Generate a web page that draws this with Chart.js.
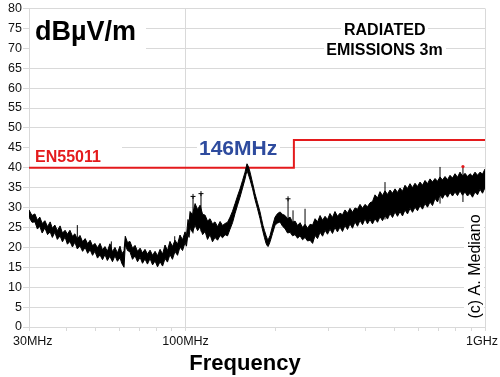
<!DOCTYPE html>
<html>
<head>
<meta charset="utf-8">
<script src="https://cdn.jsdelivr.net/npm/chart.js@4/dist/chart.umd.min.js"></script>
<style>
html,body{margin:0;padding:0;background:#fff;}
#wrap{width:500px;height:377px;}
</style>
</head>
<body>
<div id="wrap"><canvas id="c" width="500" height="377"></canvas></div>
<script>
// ---- data (MHz, dBµV/m) ----
const freqs = [
  30.0,30.7,31.4,32.0,32.6,33.2,33.9,34.6,35.3,35.9,36.6,37.3,
  38.1,38.8,39.6,40.3,41.1,41.9,42.7,43.5,44.4,45.3,46.2,47.1,
  48.0,48.9,49.8,50.8,51.8,52.8,53.8,54.8,55.9,57.0,58.1,59.2,
  60.4,61.3,62.3,62.9,64.0,65.2,66.5,67.8,69.1,70.5,71.8,73.2,
  74.6,76.1,77.6,79.1,80.6,82.2,83.8,85.4,87.0,88.7,90.4,92.2,
  94.0,95.8,97.7,99.6,100.7,101.9,102.7,103.5,105.5,107.6,109.7,111.8,
  114.0,116.2,118.4,120.7,123.0,125.4,127.9,130.4,132.9,135.5,138.1,140.8,
  143.5,146.3,149.1,152.0,155.0,158.0,159.2,160.4,162.3,164.2,167.4,170.6,
  173.9,177.3,179.3,181.4,183.5,185.7,187.1,188.6,190.0,191.5,195.2,199.0,
  202.9,206.8,210.8,214.9,219.1,223.3,227.7,232.1,236.6,241.2,245.9,250.6,
  255.5,260.5,265.6,270.7,275.9,281.3,286.8,292.3,297.9,303.6,309.5,315.5,
  321.6,327.9,334.3,340.8,347.4,354.1,361.0,368.0,375.2,382.5,389.9,397.4,
  405.1,413.0,421.0,429.2,437.6,446.1,454.7,463.5,472.5,481.7,491.1,500.6,
  510.3,520.2,530.3,540.6,551.1,561.8,572.7,583.8,595.1,606.7,618.5,630.5,
  642.7,655.2,667.9,680.9,694.1,707.6,721.3,735.3,749.6,764.1,779.0,794.1,
  809.5,825.2,841.2,857.6,874.2,891.2,908.5,926.1,944.1,962.4,981.1,1000];
const upperLevels = [
  29.4,28.0,28.4,26.8,27.6,26.0,26.7,25.2,26.4,24.8,25.6,24.2,
  25.4,23.6,24.3,23.3,24.3,22.8,23.4,22.1,23.0,21.4,22.2,20.9,
  21.8,20.4,21.0,19.9,21.0,19.4,20.2,19.0,20.9,18.9,20.0,18.6,
  20.3,18.4,19.2,22.8,21.2,21.5,19.8,20.5,19.0,19.8,18.6,19.5,
  18.3,19.3,18.0,19.0,17.9,19.5,18.3,20.6,19.2,21.5,20.2,21.8,
  20.8,23.1,21.9,23.9,23.0,27.0,26.0,29.0,28.2,31.0,29.5,30.6,
  28.3,28.1,26.6,27.2,25.9,26.4,25.2,26.5,25.5,26.0,26.3,27.6,
  29.1,31.0,32.9,34.7,36.8,38.9,40.0,41.0,40.2,38.9,36.2,33.5,
  31.2,28.9,27.2,25.5,24.2,23.0,22.3,21.8,22.4,23.0,25.4,27.6,
  28.5,28.9,28.3,28.0,27.2,27.6,26.3,26.6,25.5,26.2,25.0,25.8,
  24.8,25.8,25.6,27.2,26.4,28.0,26.8,27.8,27.0,28.5,27.5,29.0,
  27.8,28.6,28.2,29.4,28.6,29.8,28.8,29.9,29.6,30.8,29.8,30.8,
  30.2,31.2,31.5,33.2,32.4,34.0,33.0,34.2,33.3,34.4,33.6,34.7,
  33.8,34.9,34.1,35.6,34.8,36.0,35.0,36.1,35.3,36.4,35.6,36.8,
  36.0,37.2,36.4,37.3,36.6,37.7,36.9,37.8,37.0,38.1,37.4,38.5,
  37.6,38.9,37.9,38.6,37.8,38.5,37.9,38.9,38.1,38.9,38.4,39.7];
const lowerLevels = [
  27.6,26.3,26.4,24.6,25.3,23.6,24.9,23.2,23.9,22.5,23.8,22.0,
  22.9,21.4,22.6,20.8,21.5,20.1,21.3,19.6,20.4,19.0,20.0,18.5,
  19.4,18.0,19.0,17.3,18.1,16.9,18.2,16.7,17.8,16.4,17.9,16.5,
  17.4,15.9,15.0,20.6,19.2,18.9,17.0,17.9,16.4,17.5,16.0,17.1,
  15.8,17.2,15.6,16.6,15.1,16.4,15.3,17.2,16.3,18.2,17.0,19.0,
  18.0,20.1,19.2,21.2,20.3,23.5,22.5,24.8,23.8,25.6,24.2,25.2,
  23.2,24.0,22.0,23.2,21.4,22.5,21.8,23.0,22.4,23.2,22.9,24.6,
  26.2,28.5,30.6,32.6,34.9,37.2,38.3,39.3,38.2,37.0,34.7,32.0,
  29.7,27.2,25.5,23.9,22.4,21.0,20.5,20.2,20.7,21.4,23.5,25.6,
  26.1,26.4,25.3,24.7,23.6,23.8,22.9,23.2,22.3,22.9,21.9,22.5,
  21.6,21.8,21.0,23.0,22.2,23.8,22.8,24.3,23.3,24.6,23.5,25.0,
  23.9,25.1,24.0,25.5,24.5,25.9,24.8,26.4,25.3,26.8,25.7,27.2,
  25.9,27.0,25.9,27.2,26.3,27.7,26.7,28.0,27.1,28.5,27.5,28.9,
  27.8,29.0,27.9,29.4,28.4,29.8,28.8,30.1,29.2,30.5,29.6,31.0,
  30.1,31.4,30.5,32.3,31.4,33.2,32.3,33.5,32.6,33.8,32.9,33.9,
  33.0,34.2,33.1,33.9,32.9,33.6,32.6,33.9,33.2,34.6,33.6,35.0];
// narrow spikes (freq MHz, low dB, high dB)
const spikeFreqs = [43.5,56.5,92.0,105.9,112.6,219.9,228.5,250.6,463.5,707.6,844];
const spikeLows  = [20.0,17.0,18.5,23.5,24.0,24.5,23.5,22.5,27.0,31.0,31.4];
const spikeHighs = [25.6,21.5,22.8,32.8,33.5,32.2,29.3,29.7,36.4,40.2,40.3];
// peak markers
const markerFreqs = [105.9,112.6,219.9];
const markerLevels = [32.8,33.5,32.2];
const redDotFreqs = [844];
const redDotLevels = [40.3];
// EN55011 limit
const limitFreqs = [30,230,230,1000];
const limitLevels = [40,40,47,47];
// axes
const yMin = 0, yMax = 80, yStep = 5;
const xMin = 30, xMax = 1000;
const xTickValues = [30,40,50,60,70,80,90,100,200,300,400,500,600,700,800,900,1000];
const xLabelValues = [30,100,1000];
const xLabelTexts = ['30MHz','100MHz','1GHz'];
const xGridValues = [100,1000];

const pts = (xs, ys) => xs.map((x,i)=>({x:x, y:ys[i]}));
const spikeData = [];
spikeFreqs.forEach((f,i)=>{ spikeData.push({x:f,y:spikeLows[i]},{x:f,y:spikeHighs[i]},{x:f,y:null}); });

const FONT = '"Liberation Sans", Arial, sans-serif';
const GRID = '#d9d9d9';

const annot = {
  id:'annot',
  beforeDatasetsDraw(chart){
    const c = chart.ctx;
    c.save();
    c.fillStyle = '#fff';
    c.fillRect(30, 9, 116, 41);
    c.fillRect(341, 20, 87, 18);
    c.fillRect(324, 40, 122, 18);
    c.fillRect(30, 139, 92, 26);
    c.fillRect(197, 136, 83, 24);
    c.fillRect(464, 209, 20, 112);
    c.textBaseline = 'alphabetic';
    c.fillStyle = '#000';
    c.font = 'bold 27px ' + FONT;
    c.textAlign = 'left';
    c.fillText('dBµV/m', 35, 39.5);
    c.font = 'bold 16px ' + FONT;
    c.textAlign = 'center';
    c.fillText('RADIATED', 384.7, 35);
    c.fillText('EMISSIONS 3m', 384.5, 55);
    c.textAlign = 'left';
    c.fillStyle = '#e41a1c';
    c.fillText('EN55011', 35, 161.5);
    c.fillStyle = '#2e4b9e';
    c.font = 'bold 21px ' + FONT;
    c.fillText('146MHz', 199, 155);
    c.fillStyle = '#000';
    c.font = '16px ' + FONT;
    c.translate(480, 318.5);
    c.rotate(-Math.PI/2);
    c.fillText('(c) A. Mediano', 0, 0);
    c.restore();
  },
  afterDraw(chart){
    const c = chart.ctx;
    const xs = chart.scales.x;
    c.save();
    c.fillStyle = '#111';
    c.font = '12.5px ' + FONT;
    c.textAlign = 'center';
    c.textBaseline = 'alphabetic';
    xLabelValues.forEach((v,i)=>{
      const t = xLabelTexts[i];
      const w = c.measureText(t).width;
      let px = xs.getPixelForValue(v);
      px = Math.max(px, 13 + w/2);
      px = Math.min(px, 498 - w/2);
      c.fillText(t, px, 345);
    });
    c.fillStyle = '#000';
    c.font = 'bold 22px ' + FONT;
    c.fillText('Frequency', 245, 370);
    c.restore();
  }
};

new Chart(document.getElementById('c'), {
  type:'line',
  data:{
    datasets:[
      {data: pts(redDotFreqs, redDotLevels), showLine:false, pointRadius:1.6, pointBackgroundColor:'#e41a1c', pointBorderColor:'#e41a1c', borderWidth:0},
      {data: pts(markerFreqs, markerLevels), showLine:false, pointStyle:'cross', pointRadius:2.5, pointBorderColor:'#000', pointBorderWidth:1},
      {data: spikeData, borderColor:'#000', borderWidth:1, pointRadius:0, spanGaps:false, fill:false},
      {data: pts(freqs, upperLevels), borderColor:'#000', borderWidth:1, pointRadius:0, fill:'+1', backgroundColor:'#000', tension:0},
      {data: pts(freqs, lowerLevels), borderColor:'#000', borderWidth:1, pointRadius:0, fill:false, tension:0},
      {data: pts(limitFreqs, limitLevels), borderColor:'#e41a1c', borderWidth:2, pointRadius:0, fill:false}
    ]
  },
  options:{
    responsive:false,
    animation:false,
    devicePixelRatio:1,
    layout:{padding:{top:8,right:15,left:0,bottom:0}},
    plugins:{legend:{display:false}, tooltip:{enabled:false}},
    scales:{
      x:{
        type:'logarithmic', min:xMin, max:xMax,
        afterBuildTicks(s){ s.ticks = xTickValues.map(v=>({value:v})); },
        afterFit(s){ s.height = 50; },
        ticks:{display:false},
        border:{display:true, color:GRID, width:1},
        grid:{
          color:(ctx)=> (ctx.tick && xGridValues.includes(ctx.tick.value)) ? GRID : 'rgba(0,0,0,0)',
          tickColor:GRID, drawTicks:true, tickLength:4, lineWidth:1
        }
      },
      y:{
        min:yMin, max:yMax,
        afterFit(s){ s.width = 29; },
        ticks:{stepSize:yStep, color:'#111', font:{family:FONT, size:12.5}, padding:1},
        border:{display:true, color:GRID, width:1},
        grid:{color:GRID, tickColor:GRID, tickLength:6, lineWidth:1}
      }
    }
  },
  plugins:[annot]
});
</script>
</body>
</html>
